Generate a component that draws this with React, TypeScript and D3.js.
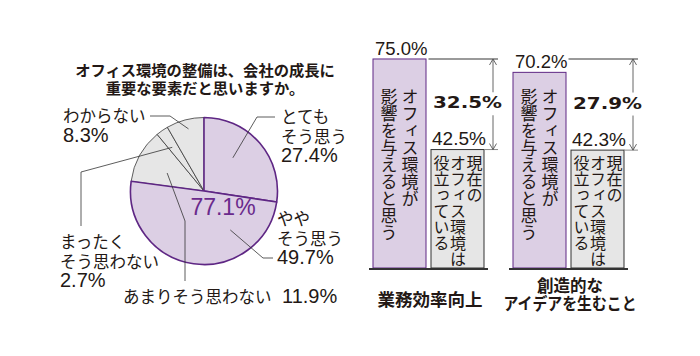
import React from 'react';
import * as d3 from 'd3';

// ---------- data ----------
const pieLabels = ['とてもそう思う', 'ややそう思う', 'あまりそう思わない', 'まったくそう思わない', 'わからない'];
const pieValues = [27.4, 49.7, 11.9, 2.7, 8.3];
const positiveShare = 77.1;
const titleLines = ['オフィス環境の整備は、会社の成長に', '重要な要素だと思いますか。'];

const barCategories = ['業務効率向上', '創造的なアイデアを生むこと'];
const seriesNames = ['オフィス環境が影響を与えると思う', '現在のオフィス環境は役立っている'];
const impactValues = [75.0, 70.2];
const currentValues = [42.5, 42.3];
const gapValues = [32.5, 27.9];

// ---------- layout / style ----------
const W = 700, H = 356;
const PURPLE_FILL = '#dccfe4';
const PURPLE = '#5e2684';
const PURPLE_TEXT = '#6a2a8c';
const GREY_FILL = '#e6e6e6';
const INK = '#231815';
const JP = '"Noto Sans CJK JP", "Noto Sans", sans-serif';
const NUM = '"Liberation Sans", Arial, sans-serif';

const cx = 204, cy = 191, R = 73.5;
const positive = [true, true, false, false, false];

// pie label layout: lines (kana / number), x, baselines
const pieLabelLines = [
  ['とても', 'そう思う'],
  ['やや', 'そう思う'],
  ['あまりそう思わない'],
  ['まったく', 'そう思わない'],
  ['わからない'],
];
const pieLabelX = [281, 277, 123, 60, 63];
const pieLabelY = [123, 225, 303, 248, 122];
const pieLineGap = 19.5;
// leader: inner point (angle deg, radius), then outer polyline points
const leaderInner: [number, number][] = [[41, 44], [146, 47], [296, 41], [324, 54], [346, 64]];
const leaderOuter: [number, number][][] = [
  [[257, 117], [275, 117]],
  [[263, 258], [273, 258]],
  [[185, 221], [185, 281]],
  [[81, 172], [81, 226]],
  [[170, 116], [150, 116]],
];

const seriesColumns = [
  ['オフィス環境が', '影響を与えると思う'],
  ['現在の', 'オフィス環境は', '役立っている'],
];
const categoryLines = [['業務効率向上'], ['創造的な', 'アイデアを生むこと']];

const fmt = (v: number) => `${v.toFixed(1)}%`;

export default function App() {
  const arcs = d3.pie<number>().sort(null).value(d => d)(pieValues);
  const arc = d3.arc<d3.PieArcDatum<number>>().innerRadius(0).outerRadius(R);
  const line = d3.line();

  const y = d3.scaleLinear().domain([0, 100]).range([268, 268 - 278.7]);
  const xC = d3.scalePoint<string>().domain(barCategories).range([428.5, 568.5]);
  const barW = 53, gap = 2.5;
  const topY = y(d3.max(impactValues) as number);

  const order = [2, 3, 4, 0, 1]; // draw grey slices first

  return (
    <svg width={W} height={H} style={{ display: 'block', position: 'absolute', left: 0, top: 0 }}>
      <rect width={W} height={H} fill="#fff" />
      {/* title */}
      {titleLines.map((t, i) => (
        <text key={i} x={205} y={75.5 + i * 18} textAnchor="middle" fontFamily={JP} fontWeight={700}
          fontSize={15.3} fill={INK}>{t}</text>
      ))}

      {/* pie */}
      <g transform={`translate(${cx},${cy})`}>
        {order.map(i => (
          <path key={i} d={arc(arcs[i]) || ''} fill={positive[i] ? PURPLE_FILL : GREY_FILL}
            stroke={positive[i] ? PURPLE : '#3a3a3a'} strokeWidth={positive[i] ? 1.6 : 0.8}
            strokeLinejoin="round" />
        ))}
        <text x={19} y={24} textAnchor="middle" fontFamily={NUM} fontSize={23} fill={PURPLE_TEXT}>
          {fmt(positiveShare)}
        </text>
      </g>

      {/* leaders */}
      {pieValues.map((_, i) => {
        const [a, r] = leaderInner[i];
        const p = d3.pointRadial((a * Math.PI) / 180, r);
        const pts: [number, number][] = [[cx + p[0], cy + p[1]], ...leaderOuter[i]];
        return <path key={i} d={line(pts) || ''} fill="none" stroke="#333" strokeWidth={0.8} />;
      })}

      {/* pie labels */}
      {pieValues.map((v, i) => {
        const lines = pieLabelLines[i];
        const x = pieLabelX[i], y0 = pieLabelY[i];
        if (i === 2) {
          return (
            <text key={i} x={x} y={y0} fill={INK}>
              <tspan fontFamily={JP} fontSize={16.5}>{lines[0]}</tspan>
              <tspan x={282} fontFamily={NUM} fontSize={20}>{fmt(v)}</tspan>
            </text>
          );
        }
        return (
          <g key={i} fill={INK}>
            {lines.map((l, k) => (
              <text key={k} x={x} y={y0 + k * pieLineGap} fontFamily={JP} fontSize={16.5}>{l}</text>
            ))}
            <text x={x} y={y0 + lines.length * pieLineGap} fontFamily={NUM} fontSize={20}>{fmt(v)}</text>
          </g>
        );
      })}

      {/* bars */}
      {barCategories.map((c, gi) => {
        const cc = xC(c) as number;
        const pL = cc - gap - barW, gL = cc + gap;
        const vy1 = y(impactValues[gi]), vy2 = y(currentValues[gi]);
        const ax = gL + barW + 9;
        const mid = (topY + vy2) / 2;
        return (
          <g key={c}>
            <rect x={pL} y={vy1} width={barW} height={y(0) - vy1} fill={PURPLE_FILL} stroke={PURPLE} strokeWidth={1} />
            <rect x={gL} y={vy2} width={barW} height={y(0) - vy2} fill={GREY_FILL} stroke="#333" strokeWidth={1} />
            <line x1={pL - 4} x2={gL + barW + 4} y1={y(0) + 1} y2={y(0) + 1} stroke="#333" strokeWidth={2} />
            <text x={pL + 2} y={vy1 - 4} fontFamily={NUM} fontSize={18.5} fill={INK}>{fmt(impactValues[gi])}</text>
            <text x={gL + 1} y={vy2 - 4.5} fontFamily={NUM} fontSize={19} fill={INK}>{fmt(currentValues[gi])}</text>
            {/* difference bracket */}
            <line x1={cc} x2={ax + 5} y1={topY} y2={topY} stroke="#9a9a9a" strokeWidth={1.8} />
            <line x1={gL + barW} x2={ax + 5} y1={vy2} y2={vy2} stroke="#888" strokeWidth={1} />
            <line x1={ax} x2={ax} y1={topY} y2={mid - 12} stroke="#555" strokeWidth={0.9} />
            <line x1={ax} x2={ax} y1={mid + 11} y2={vy2} stroke="#555" strokeWidth={0.9} />
            <path d={`M${ax - 3.5},${topY + 6}L${ax},${topY}L${ax + 3.5},${topY + 6}`} fill="none" stroke="#555" strokeWidth={0.9} />
            <path d={`M${ax - 3.5},${vy2 - 6}L${ax},${vy2}L${ax + 3.5},${vy2 - 6}`} fill="none" stroke="#555" strokeWidth={0.9} />
            <text x={gL + barW / 2 + 10} y={mid + 4} textAnchor="middle" fontFamily='"DejaVu Sans", sans-serif'
              fontWeight={700} fontSize={16} textLength={69} lengthAdjust="spacingAndGlyphs" fill={INK}>
              {fmt(gapValues[gi])}
            </text>
            {/* vertical series texts */}
            {seriesColumns[0].map((t, k) => (
              <text key={'a' + k} x={pL + barW / 2 + 10.5 - k * 21} y={topY + 29}
                style={{ writingMode: 'vertical-rl' } as any} fontFamily={JP} fontSize={17} fill={INK}>{t}</text>
            ))}
            {seriesColumns[1].map((t, k) => (
              <text key={'b' + k} x={gL + barW / 2 + 17 - k * 16.5} y={vy2 + 5}
                style={{ writingMode: 'vertical-rl' } as any} fontFamily={JP} fontSize={16} fill={INK}>{t}</text>
            ))}
            {/* category label */}
            {categoryLines[gi].map((t, k) => {
              const n = categoryLines[gi].length;
              const by = n === 1 ? 306 : 292 + k * 18;
              const tl = t === 'アイデアを生むこと' ? { textLength: 133, lengthAdjust: 'spacingAndGlyphs' } : {};
              return (
                <text key={'c' + k} x={cc + 1.5} y={by} textAnchor="middle" fontFamily={JP} fontWeight={700}
                  fontSize={n === 1 ? 17.5 : 16.5} fill={INK} {...(tl as any)}>{t}</text>
              );
            })}
          </g>
        );
      })}
      <desc>{seriesNames.join(' / ')} {pieLabels.join(' / ')}</desc>
    </svg>
  );
}
